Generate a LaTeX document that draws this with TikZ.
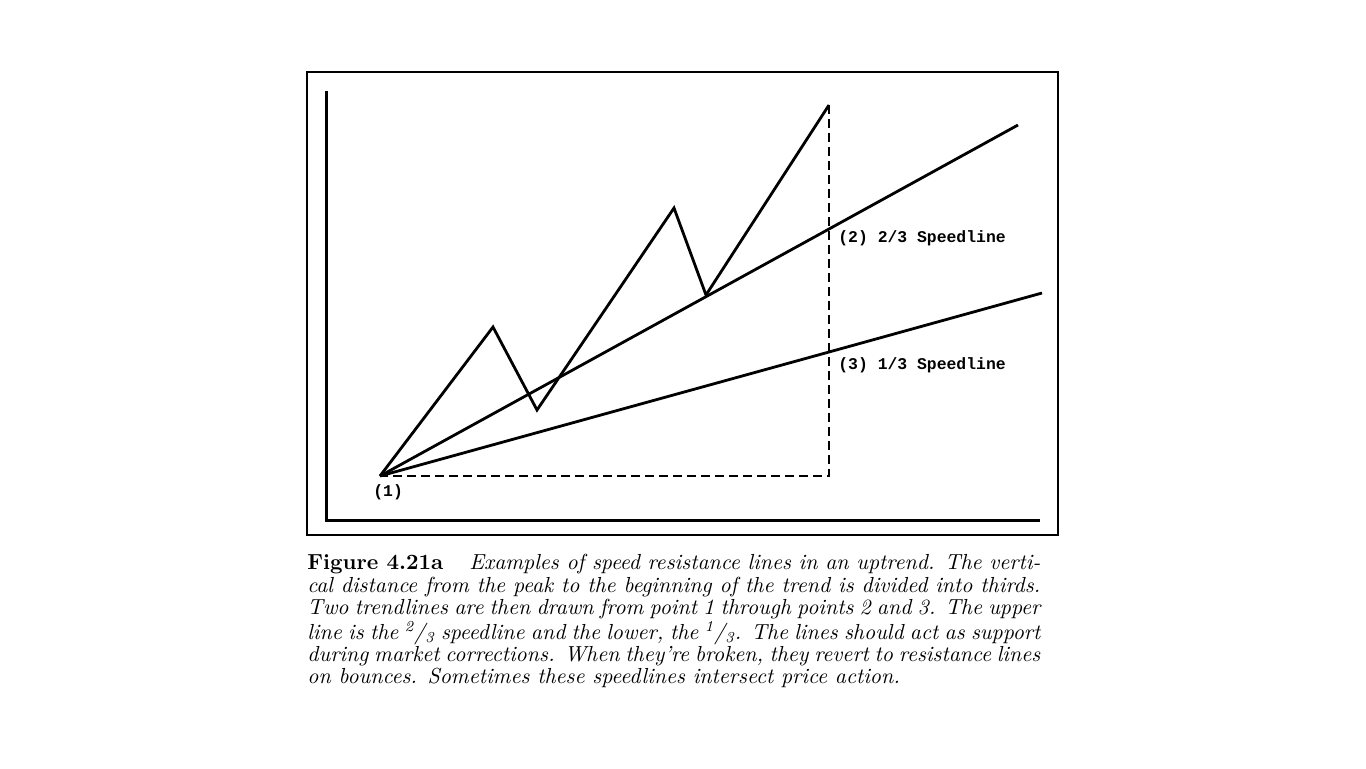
\documentclass[tikz,border=0pt]{standalone}
\usepackage{fontspec}
\newfontfamily\tagfont{Liberation Mono}
\usetikzlibrary{positioning}

\begin{document}
\begin{tikzpicture}[x=0.5pt, y=-0.5pt,
    axis/.style={line width=1.5pt, line cap=rect},
    price/.style={line width=1.4pt, line join=miter},
    speed/.style={line width=1.4pt},
    guide/.style={line width=1.2pt, dash pattern=on 4.5pt off 2.5pt},
    tag/.style={font=\tagfont\bfseries\fontsize{8.2}{9}\selectfont, inner sep=0pt}]
  \useasboundingbox (0,0) rectangle (1366,768);
  \draw[line width=0.8pt] (307,72) rectangle (1058,535);
  % axes
  \coordinate (ytop) at (326,92);
  \coordinate (orig) at (326,520);
  \coordinate (xend) at (1038,520);
  \draw[axis] (ytop) -- (orig) -- (xend);
  % price swings
  \coordinate (p1) at (380,476);
  \coordinate (h1) at (493,327);
  \coordinate (l1) at (537,410);
  \coordinate (h2) at (674,208);
  \coordinate (l2) at (706,295);
  \coordinate (peak) at (829,105);
  \draw[price] (p1) -- (h1) -- (l1) -- (h2) -- (l2) -- (peak);
  % thirds of the rise
  \coordinate (base) at (829,476);
  \coordinate (s2) at (829,229);
  \coordinate (s3) at (829,352);
  \draw[guide] (peak) -- (base) -- (p1);
  % speedlines
  \coordinate (e2) at (1018,125);
  \coordinate (e3) at (1042,293);
  \draw[speed] (p1) -- (s2) -- (e2);
  \draw[speed] (p1) -- (s3) -- (e3);
  \node[tag, anchor=west] (t2) at (838,238) {(2) 2/3 Speedline};
  \node[tag, anchor=west] (t3) at (838,365) {(3) 1/3 Speedline};
  \node[tag, anchor=west] (t1) at (373,492) {(1)};
  % caption
  \node[anchor=north west, inner sep=0pt, text width=366.5pt, align=justify,
        font=\fontsize{10.9}{11.2}\selectfont] (caption) at (307,554)
    {\hyphenpenalty=10000\tolerance=9999
     \textbf{Figure 4.21a}\hspace{13pt}\textit{Examples of speed resistance lines in an uptrend. The verti-\linebreak
     cal distance from the peak to the beginning of the trend is divided into thirds.\linebreak
     Two trendlines are then drawn from point 1 through points 2 and 3. The upper\linebreak
     line is the \textsuperscript{2}/\textsubscript{3} speedline and the lower, the \textsuperscript{1}/\textsubscript{3}. The lines should act as support\linebreak
     during market corrections. When they're broken, they revert to resistance lines\linebreak
     on bounces. Sometimes these speedlines intersect price action.}};
\end{tikzpicture}
\end{document}
